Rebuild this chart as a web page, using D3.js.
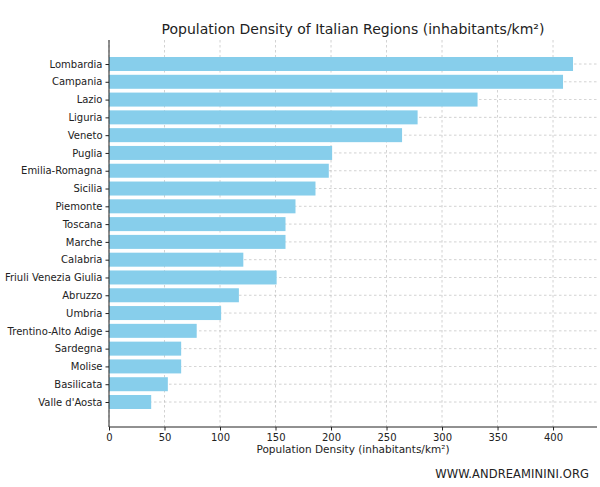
<!DOCTYPE html>
<html><head><meta charset="utf-8">
<script src="https://cdn.jsdelivr.net/npm/d3@7"></script>
<style>body{margin:0;background:#fff}text{font-family:"DejaVu Sans",sans-serif}</style>
</head><body><svg id="c" width="600" height="487"></svg>
<script>
const regions=["Lombardia","Campania","Lazio","Liguria","Veneto","Puglia","Emilia-Romagna","Sicilia","Piemonte","Toscana","Marche","Calabria","Friuli Venezia Giulia","Abruzzo","Umbria","Trentino-Alto Adige","Sardegna","Molise","Basilicata","Valle d'Aosta"];
const density=[418,409,332,278,264,201,198,186,168,159,159,121,151,117,101,79,65,65,53,38];
const xTicks=[0,50,100,150,200,250,300,350,400];
const svg=d3.select("#c");
const L=109,R=597,T=40,B=427;
const x=d3.scaleLinear().domain([0,439.6]).range([L,R]);
const y=d3.scalePoint().domain(regions).range([64,402]);
const g=svg.append("g");
g.selectAll(".vg").data(xTicks).join("line").attr("x1",d=>x(d)).attr("x2",d=>x(d)).attr("y1",T).attr("y2",B)
 .attr("stroke","#b0b0b0").attr("stroke-width",0.8).attr("stroke-dasharray","2.5,2.5").attr("opacity",0.7);
g.selectAll(".hg").data(regions).join("line").attr("x1",L).attr("x2",R).attr("y1",d=>y(d)).attr("y2",d=>y(d))
 .attr("stroke","#b0b0b0").attr("stroke-width",0.8).attr("stroke-dasharray","2.5,2.5").attr("opacity",0.7);
g.selectAll("rect").data(regions).join("rect").attr("x",L).attr("y",d=>y(d)-7).attr("height",14)
 .attr("width",(d,i)=>x(density[i])-L).attr("fill","#87ceeb");
const xa=svg.append("g").attr("transform",`translate(0,${B})`).call(d3.axisBottom(x).tickValues(xTicks).tickSize(3.5).tickPadding(3));
const ya=svg.append("g").attr("transform",`translate(${L},0)`).call(d3.axisLeft(y).tickSize(3.5).tickPadding(3));
[xa,ya].forEach(a=>{a.selectAll("text").attr("font-size",10).attr("fill","#222").style("font-family","DejaVu Sans");a.select(".domain").attr("stroke","#222");a.selectAll(".tick line").attr("stroke","#222");});
ya.select(".domain").attr("d",`M0,${T}V${B}`);
xa.select(".domain").attr("d",`M${L},0H${R}`);
svg.append("text").attr("x",353).attr("y",34).attr("text-anchor","middle").attr("font-size",14).attr("fill","#222").text("Population Density of Italian Regions (inhabitants/km²)");
svg.append("text").attr("x",353).attr("y",453).attr("text-anchor","middle").attr("font-size",10.5).attr("fill","#222").text("Population Density (inhabitants/km²)");
svg.append("text").attr("x",589).attr("y",478).attr("text-anchor","end").attr("font-size",11.5).attr("letter-spacing",0.1).attr("fill","#222").text("WWW.ANDREAMININI.ORG");
</script></body></html>
